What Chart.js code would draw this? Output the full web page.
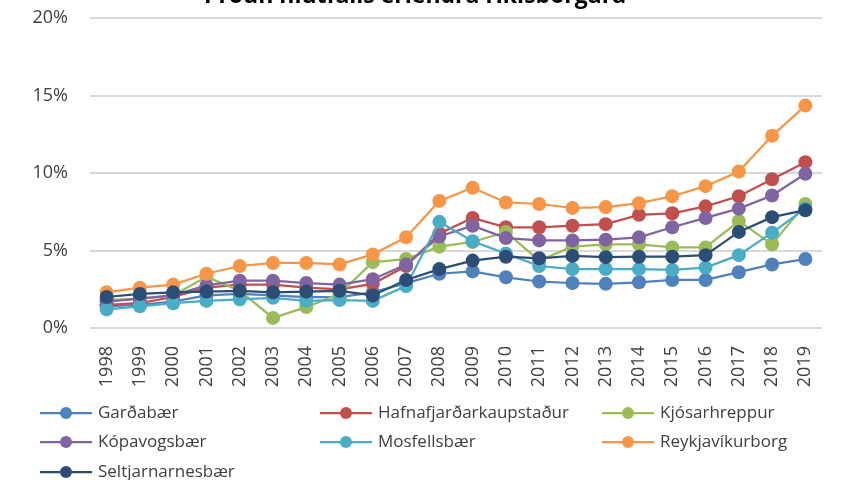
<!DOCTYPE html>
<html>
<head>
<meta charset="utf-8">
<script src="https://cdn.jsdelivr.net/npm/chart.js@4"></script>
<style>
    html, body { margin: 0; padding: 0; background: #fff; }
    #wrap { width: 841px; height: 480px; position: relative; }
</style>
</head>
<body>
<div id="wrap"><canvas id="myChart"></canvas></div>
<script>
const titill = "Þróun hlutfalls erlendra ríkisborgara";

const years = ["1998", "1999", "2000", "2001", "2002", "2003", "2004", "2005", "2006", "2007", "2008",
    "2009", "2010", "2011", "2012", "2013", "2014", "2015", "2016", "2017", "2018", "2019"];

const yTicks = [0, 5, 10, 15, 20];

const gardabaer = [1.4, 1.5, 1.7, 2.1, 2.2, 2.1, 2.0, 2.0, 2.3, 2.9, 3.5, 3.65, 3.27, 3.0, 2.9, 2.85, 2.95, 3.1, 3.1, 3.6, 4.1, 4.45];
const hafnarfjordur = [1.5, 1.6, 2.0, 2.6, 2.8, 2.8, 2.6, 2.5, 2.85, 4.0, 6.1, 7.1, 6.5, 6.5, 6.6, 6.7, 7.3, 7.4, 7.85, 8.5, 9.6, 10.7];
const kjosarhreppur = [1.8, 1.9, 2.1, 3.3, 2.4, 0.65, 1.35, 2.2, 4.25, 4.45, 5.25, 5.55, 6.2, 4.35, 5.25, 5.4, 5.4, 5.2, 5.2, 6.9, 5.4, 8.0];
const kopavogur = [1.7, 1.9, 2.1, 2.75, 3.05, 3.05, 2.9, 2.8, 3.15, 4.1, 5.9, 6.6, 5.8, 5.65, 5.65, 5.7, 5.85, 6.5, 7.1, 7.7, 8.55, 9.95];
const mosfellsbaer = [1.2, 1.4, 1.6, 1.75, 1.85, 1.95, 1.75, 1.8, 1.75, 2.7, 6.85, 5.6, 4.8, 4.0, 3.8, 3.8, 3.8, 3.75, 3.9, 4.7, 6.15, 7.7];
const reykjavik = [2.3, 2.6, 2.8, 3.5, 4.0, 4.2, 4.2, 4.1, 4.75, 5.85, 8.2, 9.05, 8.1, 8.0, 7.75, 7.8, 8.05, 8.5, 9.15, 10.1, 12.4, 14.35];
const seltjarnarnes = [2.0, 2.2, 2.3, 2.35, 2.4, 2.3, 2.35, 2.4, 2.1, 3.1, 3.8, 4.35, 4.6, 4.5, 4.65, 4.57, 4.6, 4.6, 4.7, 6.2, 7.15, 7.6];

const nofn = ["Garðabær", "Hafnafjarðarkaupstaður", "Kjósarhreppur", "Kópavogsbær", "Mosfellsbær", "Reykjavíkurborg", "Seltjarnarnesbær"];
const gogn = [gardabaer, hafnarfjordur, kjosarhreppur, kopavogur, mosfellsbaer, reykjavik, seltjarnarnes];
const litir = ["#4f81bd", "#c0504d", "#9bbb59", "#8064a2", "#4bacc6", "#f79646", "#2c4d75"];

const FONT = "'Open Sans', 'Noto Sans', sans-serif";
const TEXTI = "#404040";

// titill er skorinn af efst, eins og í fyrirmyndinni
const titlePlugin = {
    id: "titill",
    afterDraw(chart) {
        const ctx = chart.ctx;
        ctx.save();
        ctx.font = "bold 23px " + FONT;
        ctx.fillStyle = "#000";
        ctx.textAlign = "center";
        ctx.textBaseline = "alphabetic";
        ctx.fillText(titill, 415, 3);
        ctx.restore();
    }
};

// skýringar í þremur dálkum
const legendPlugin = {
    id: "skyring",
    afterDraw(chart) {
        const ctx = chart.ctx;
        const cols = [40, 320, 602];
        const rows = [413, 442, 472];
        ctx.save();
        ctx.font = "17px " + FONT;
        ctx.textBaseline = "middle";
        ctx.textAlign = "left";
        chart.data.datasets.forEach((ds, i) => {
            const x = cols[i % 3];
            const y = rows[Math.floor(i / 3)];
            ctx.strokeStyle = ds.borderColor;
            ctx.lineWidth = 2.25;
            ctx.beginPath();
            ctx.moveTo(x, y);
            ctx.lineTo(x + 52, y);
            ctx.stroke();
            ctx.fillStyle = ds.backgroundColor;
            ctx.beginPath();
            ctx.arc(x + 26, y, 6, 0, Math.PI * 2);
            ctx.fill();
            ctx.fillStyle = TEXTI;
            ctx.fillText(ds.label, x + 58, y);
        });
        ctx.restore();
    }
};

const ctx = document.getElementById("myChart").getContext("2d");

new Chart(ctx, {
    type: "line",
    data: {
        labels: years,
        datasets: gogn.map((d, i) => ({
            label: nofn[i],
            data: d,
            borderColor: litir[i],
            backgroundColor: litir[i],
            borderWidth: 2.25,
            pointRadius: 7,
            pointBorderWidth: 0,
            tension: 0,
            order: gogn.length - i
        }))
    },
    options: {
        responsive: true,
        maintainAspectRatio: false,
        animation: false,
        layout: { padding: { left: 0, right: 19, top: 18, bottom: 0 } },
        plugins: {
            legend: { display: false },
            title: { display: false },
            tooltip: { enabled: false }
        },
        scales: {
            x: {
                offset: true,
                grid: { display: false, drawTicks: false },
                border: { display: false },
                ticks: {
                    color: TEXTI,
                    font: { family: FONT, size: 18 },
                    minRotation: 90,
                    maxRotation: 90,
                    autoSkip: false,
                    padding: 18
                },
                afterFit(scale) {
                    scale.height = 152;
                    scale.paddingLeft = 0;
                    scale.paddingRight = 0;
                }
            },
            y: {
                min: yTicks[0],
                max: yTicks[yTicks.length - 1],
                afterBuildTicks(scale) { scale.ticks = yTicks.map(v => ({ value: v })); },
                grid: { color: "#d9d9d9", lineWidth: 2, drawTicks: false },
                border: { display: false },
                ticks: {
                    color: TEXTI,
                    font: { family: FONT, size: 18 },
                    padding: 22,
                    callback: v => v + "%"
                },
                afterFit(scale) {
                    scale.width = 90;
                    scale.paddingTop = 0;
                    scale.paddingBottom = 0;
                }
            }
        }
    },
    plugins: [titlePlugin, legendPlugin]
});
</script>
</body>
</html>
